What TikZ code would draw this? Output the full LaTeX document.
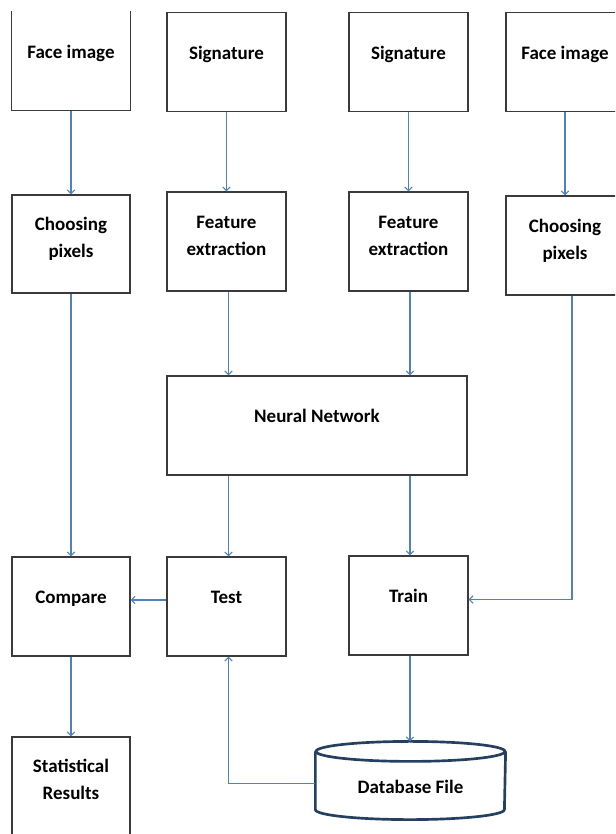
\documentclass[tikz,border=0pt]{standalone}
\usepackage{fontspec}
\setmainfont{Carlito}
\usetikzlibrary{arrows.meta}
\definecolor{boxc}{HTML}{3A3A3A}
\definecolor{arrc}{HTML}{4F81BD}
\definecolor{dbc}{HTML}{243F60}
\newcommand\boxtext[2]{\raisebox{#1}[0pt][0pt]{\begin{tabular}[t]{@{}c@{}}#2\end{tabular}}}
\begin{document}
\begin{tikzpicture}[x=0.75pt,y=-0.75pt,
  boxline/.style={draw=boxc, line width=0.9pt},
  box/.style={boxline, rectangle, minimum width=89.25pt, minimum height=74.25pt, inner sep=0pt,
    font=\fontsize{14.25pt}{20.25pt}\selectfont\bfseries},
  arr/.style={draw=arrc, line width=0.8pt, -{Straight Barb[length=2.8pt,width=5.5pt]}},
  dbline/.style={draw=dbc, line width=2pt}]
\useasboundingbox (0,0) rectangle (615,834);
\clip (0,0) rectangle (615,834);
\fill[white] (0,0) rectangle (615,834);
% top row
\node[box, draw=none, minimum width=88.5pt, minimum height=73.5pt] (fl) at (71,61) {\boxtext{1.9pt}{Face image}};
\draw[boxline] (fl.north west) -- (fl.south west) -- (fl.south east) -- (fl.north east);
\node[box] (s1) at (226.5,62) {\boxtext{1.9pt}{Signature}};
\node[box] (s2) at (408.5,62) {\boxtext{1.9pt}{Signature}};
\node[box, minimum width=88.5pt] (fr) at (565,62) {\boxtext{1.9pt}{Face image}};
% second row
\node[box, minimum width=88.5pt, minimum height=73.5pt] (cl) at (71,244) {\boxtext{10pt}{Choosing\\pixels}};
\node[box] (f1) at (226.5,241.5) {\boxtext{10pt}{Feature\\extraction}};
\node[box] (f2) at (408.5,241.5) {\boxtext{10pt}{Feature\\extraction}};
\node[box, minimum width=88.5pt] (cr) at (565,245.5) {\boxtext{10pt}{Choosing\\pixels}};
% neural network
\node[box, minimum width=225pt] (nn) at (317,425.5) {\boxtext{2.4pt}{Neural Network}};
% fourth row
\node[box, minimum width=88.5pt] (cmp) at (71,606.5) {\boxtext{1.9pt}{Compare}};
\node[box] (test) at (226.5,606.5) {\boxtext{1.9pt}{Test}};
\node[box] (train) at (408.5,605.5) {\boxtext{1.9pt}{Train}};
% statistical results
\node[box, minimum width=88.5pt, minimum height=73.5pt] (stat) at (71,786) {\boxtext{10.3pt}{Statistical\\Results}};
% database cylinder
\node[box, draw=none, minimum width=141.75pt, minimum height=57.75pt] (db) at (410.5,780.5) {\boxtext{-10pt}{Database File}};
\draw[dbline] ([yshift=-7.5pt]db.north west) -- ([yshift=7.5pt]db.south west)
  arc[start angle=180, end angle=360, x radius=70.875pt, y radius=7.5pt]
  -- ([yshift=-7.5pt]db.north east);
\draw[dbline] ([yshift=-7.5pt]db.north) ellipse [x radius=70.875pt, y radius=7.5pt];
% connectors
\draw[arr] (fl) -- (cl);
\draw[arr] (s1) -- (f1);
\draw[arr] (s2) -- (f2);
\draw[arr] (fr) -- (cr);
\draw[arr] (cl) -- (cmp);
\draw[arr] (cmp) -- (stat);
\draw[arr] ([xshift=1.5pt]f1.south) -- ([xshift=1.5pt]f1.south |- nn.north);
\draw[arr] ([xshift=1.1pt]f2.south) -- ([xshift=1.1pt]f2.south |- nn.north);
\draw[arr] ([xshift=1.5pt]test.north |- nn.south) -- ([xshift=1.5pt]test.north);
\draw[arr] ([xshift=1.1pt]train.north |- nn.south) -- ([xshift=1.1pt]train.north);
\draw[arr] ([xshift=5.25pt]cr.south) |- ([yshift=4.5pt]train.east);
\draw[arr] ([yshift=4.9pt]test.west) -- ([yshift=4.9pt]test.west -| cmp.east);
\draw[arr] ([xshift=1.1pt]train.south) -- ([xshift=1.1pt]train.south |- db.north);
\draw[arr] ([yshift=-1.9pt]db.west) -| ([xshift=1.5pt]test.south);
\end{tikzpicture}
\end{document}
